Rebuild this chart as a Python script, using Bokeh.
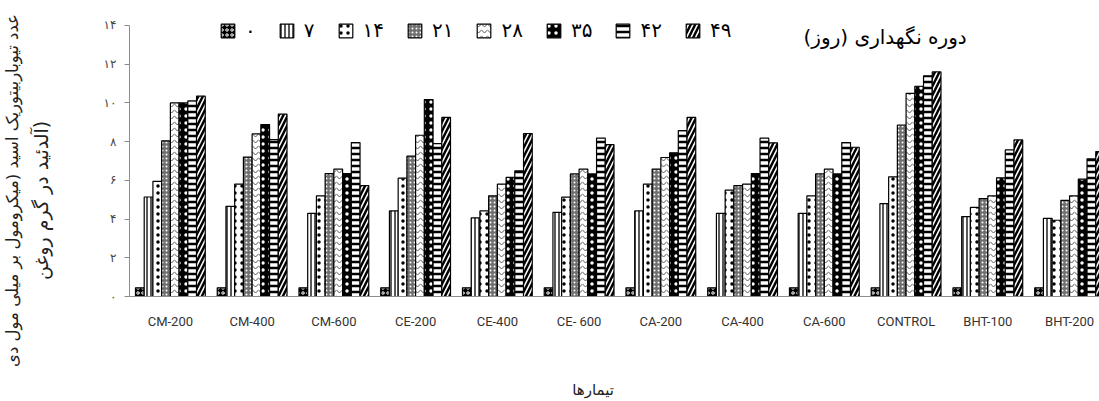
from bokeh.plotting import figure
from bokeh.models import (Range1d, FixedTicker, Legend, LegendItem, Label, ColumnDataSource,
                          LinearAxis)
from bokeh.transform import dodge
from bokeh.embed import file_html
from bokeh.resources import INLINE

categories = ["CM-200", "CM-400", "CM-600", "CE-200", "CE-400", "CE- 600",
              "CA-200", "CA-400", "CA-600", "CONTROL", "BHT-100", "BHT-200"]
series_labels = ["۰", "۷", "۱۴", "۲۱", "۲۸", "۳۵", "۴۲", "۴۹"]
d0 = [0.45, 0.45, 0.45, 0.45, 0.45, 0.45, 0.45, 0.45, 0.45, 0.45, 0.45, 0.45]
d7 = [5.14, 4.66, 4.29, 4.42, 4.06, 4.35, 4.42, 4.29, 4.29, 4.80, 4.13, 4.04]
d14 = [5.95, 5.80, 5.20, 6.11, 4.42, 5.13, 5.80, 5.49, 5.20, 6.18, 4.60, 3.94]
d21 = [8.04, 7.20, 6.35, 7.25, 5.20, 6.33, 6.58, 5.73, 6.33, 8.86, 5.06, 4.97]
d28 = [10.00, 8.40, 6.58, 8.33, 5.80, 6.58, 7.18, 5.80, 6.58, 10.49, 5.20, 5.20]
d35 = [10.00, 8.88, 6.35, 10.17, 6.15, 6.33, 7.42, 6.35, 6.33, 10.86, 6.13, 6.06]
d42 = [10.10, 8.10, 7.95, 7.90, 6.49, 8.18, 8.57, 8.18, 7.95, 11.40, 7.57, 7.11]
d49 = [10.35, 9.42, 5.73, 9.25, 8.42, 7.85, 9.25, 7.94, 7.71, 11.60, 8.09, 7.49]
y_ticks = [0, 2, 4, 6, 8, 10, 12, 14]
y_tick_labels = ["۰", "۲", "۴", "۶", "۸", "۱۰", "۱۲", "۱۴"]
y_title_1 = "عدد تیوباربیتوریک اسید (میکرومول بر میلی مول دی"
y_title_2 = "آلدئید در گرم روغن)"
x_title = "تیمارها"
legend_title = "دوره نگهداری (روز)"

series = [d0, d7, d14, d21, d28, d35, d42, d49]
keys = ["s%d" % j for j in range(8)]
data = {"x": list(range(len(categories)))}
for k, s in zip(keys, series):
    data[k] = s
source = ColumnDataSource(data)

styles = [
    dict(fill_color="black", hatch_pattern="o", hatch_color="white", hatch_scale=5, hatch_weight=1),
    dict(fill_color="white", hatch_pattern="|", hatch_color="black", hatch_scale=4, hatch_weight=1.3),
    dict(fill_color="white", hatch_pattern=".", hatch_color="black", hatch_scale=7, hatch_weight=1),
    dict(fill_color="#707070", hatch_pattern=".", hatch_color="white", hatch_scale=4, hatch_weight=1),
    dict(fill_color="white", hatch_pattern="v", hatch_color="#555555", hatch_scale=6, hatch_weight=1),
    dict(fill_color="black", hatch_pattern=".", hatch_color="white", hatch_scale=7, hatch_weight=1),
    dict(fill_color="white", hatch_pattern="-", hatch_color="black", hatch_scale=6, hatch_weight=2.5),
    dict(fill_color="white", hatch_pattern="/", hatch_color="black", hatch_scale=9, hatch_weight=2.5),
]

bar_w = 0.1067

p = figure(width=1099, height=401, output_backend="svg", toolbar_location=None,
           x_range=Range1d(-0.5, 11.366), y_range=Range1d(0, 15.29),
           min_border_left=126, min_border_right=0, min_border_top=0, min_border_bottom=105)
p.background_fill_color = "white"
p.border_fill_color = "white"
p.outline_line_color = None
p.grid.visible = False

items = []
for j, (k, st) in enumerate(zip(keys, styles)):
    r = p.vbar(x=dodge("x", (j - 3.5) * bar_w, range=p.x_range), top=k, width=bar_w,
               source=source, line_color="black", line_width=1.2, **st)
    items.append(LegendItem(label=series_labels[j], renderers=[r]))

legend = Legend(items=items, orientation="horizontal", location=(90, 254),
                padding=0, margin=0, spacing=22, label_standoff=9,
                glyph_width=17, glyph_height=17, label_height=22, label_width=0,
                label_text_font="DejaVu Sans", label_text_font_size="20px",
                label_text_color="black", background_fill_alpha=0, border_line_color=None)
p.add_layout(legend, "center")

# y axis
p.yaxis.ticker = FixedTicker(ticks=y_ticks)
p.yaxis.major_label_overrides = {t: l for t, l in zip(y_ticks, y_tick_labels)}
p.yaxis.bounds = (0, 14)
p.yaxis.axis_line_color = "#8c8c8c"
p.yaxis.major_tick_line_color = "#8c8c8c"
p.yaxis.major_tick_out = 5
p.yaxis.major_tick_in = 0
p.yaxis.minor_tick_line_color = None
p.yaxis.major_label_text_font = "DejaVu Sans"
p.yaxis.major_label_text_font_size = "12px"
p.yaxis.major_label_text_color = "#444444"
p.yaxis.major_label_standoff = 8

# x axis
p.xaxis.ticker = FixedTicker(ticks=list(range(len(categories))))
p.xaxis.major_label_overrides = {i: c for i, c in enumerate(categories)}
p.xaxis.axis_line_color = "#8c8c8c"
p.xaxis.major_tick_line_color = None
p.xaxis.minor_tick_line_color = None
p.xaxis.major_label_text_font = "Roboto"
p.xaxis.major_label_text_font_size = "13px"
p.xaxis.major_label_text_color = "#333333"
p.xaxis.major_label_standoff = 11


def title_axis(text, at, standoff, size, orientation):
    # a bare axis carrying one tick label: used to place an axis title freely
    return LinearAxis(ticker=FixedTicker(ticks=[at]), major_label_overrides={at: text},
                      axis_line_color=None, major_tick_line_color=None,
                      minor_tick_line_color=None, major_tick_out=0, major_tick_in=0,
                      major_label_standoff=standoff, major_label_orientation=orientation,
                      major_label_text_font="DejaVu Sans", major_label_text_font_size=size,
                      major_label_text_color="#222222")


p.add_layout(title_axis(y_title_2, 4.96, 48, "19px", "vertical"), "left")
p.add_layout(title_axis(y_title_1, 5.475, 5, "16.5px", "vertical"), "left")
p.add_layout(title_axis(x_title, 5.171, 49, "15px", "horizontal"), "below")

p.add_layout(Label(x=8.744, y=13.38, text=legend_title, text_align="center", text_baseline="middle",
                   text_font="DejaVu Sans", text_font_size="20px", text_color="black"))

open("out.html", "w").write(file_html(p, INLINE))
